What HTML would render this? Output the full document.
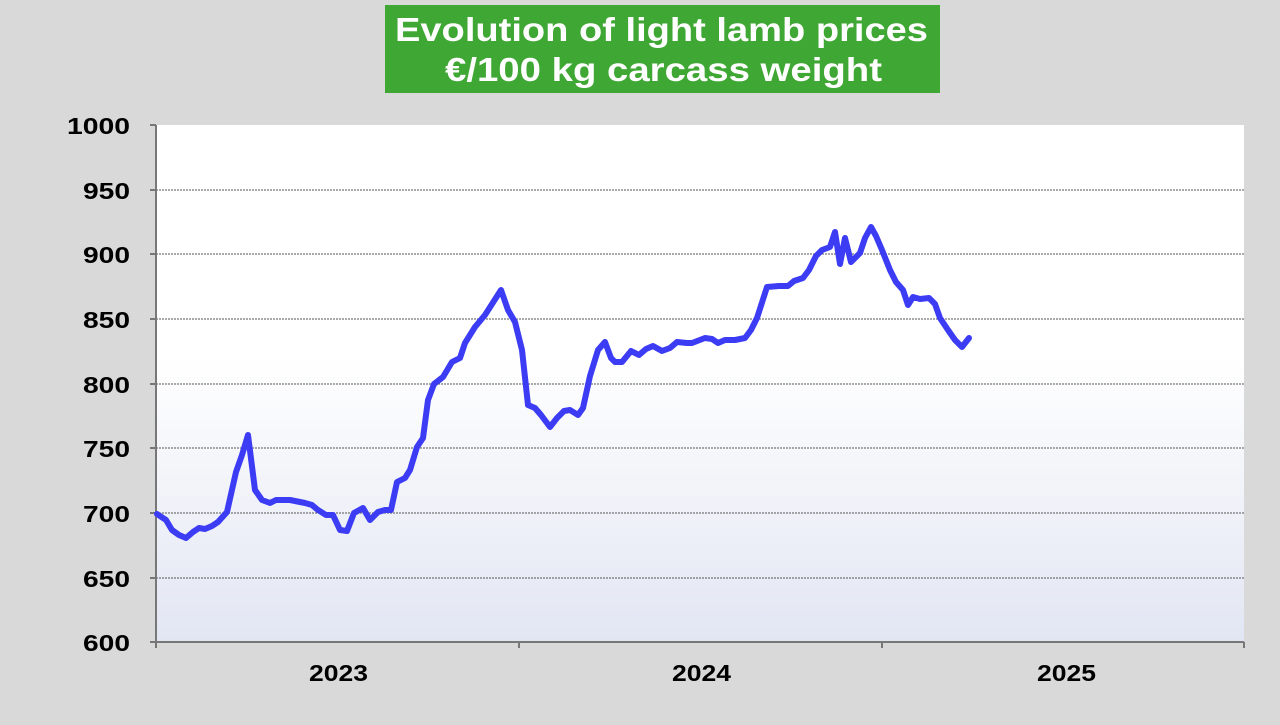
<!DOCTYPE html>
<html><head><meta charset="utf-8"><style>
body{margin:0;width:1280px;height:720px;background:#d9d9d9;overflow:hidden;font-family:"Liberation Sans",Arial,sans-serif}
</style></head><body>
<svg width="1280" height="720" xmlns="http://www.w3.org/2000/svg">
<defs><linearGradient id="g" x1="0" y1="0" x2="0" y2="1">
<stop offset="0" stop-color="#ffffff"/><stop offset="0.45" stop-color="#ffffff"/><stop offset="1" stop-color="#e2e6f3"/></linearGradient></defs>
<rect x="385" y="5" width="555" height="88" fill="#3fa733"/>
<text x="395" y="41" font-size="33" font-weight="bold" fill="#fff" textLength="533" lengthAdjust="spacingAndGlyphs">Evolution of light lamb prices</text>
<text x="445" y="81" font-size="33" font-weight="bold" fill="#fff" textLength="437" lengthAdjust="spacingAndGlyphs">€/100 kg carcass weight</text>
<rect x="156" y="125" width="1088" height="517" fill="url(#g)"/>
<g stroke="#555" stroke-width="1" stroke-dasharray="2,1">
<line x1="156" x2="1244" y1="190" y2="190"/><line x1="156" x2="1244" y1="254" y2="254"/>
<line x1="156" x2="1244" y1="319" y2="319"/><line x1="156" x2="1244" y1="384" y2="384"/>
<line x1="156" x2="1244" y1="448" y2="448"/><line x1="156" x2="1244" y1="513" y2="513"/>
<line x1="156" x2="1244" y1="578" y2="578"/></g>
<g stroke="#777" stroke-width="2">
<line x1="156" y1="125" x2="156" y2="648"/><line x1="150" y1="642" x2="1244" y2="642"/>
<line x1="150" y1="125" x2="156" y2="125"/><line x1="150" y1="190" x2="156" y2="190"/><line x1="150" y1="254" x2="156" y2="254"/><line x1="150" y1="319" x2="156" y2="319"/><line x1="150" y1="384" x2="156" y2="384"/><line x1="150" y1="448" x2="156" y2="448"/><line x1="150" y1="513" x2="156" y2="513"/><line x1="150" y1="578" x2="156" y2="578"/>
<line x1="519" y1="642" x2="519" y2="648"/><line x1="882" y1="642" x2="882" y2="648"/><line x1="1244" y1="642" x2="1244" y2="648"/></g>
<g font-size="23" font-weight="bold" fill="#000">
<text x="67" y="134" textLength="63" lengthAdjust="spacingAndGlyphs">1000</text>
<text x="83" y="199" textLength="47" lengthAdjust="spacingAndGlyphs">950</text>
<text x="83" y="263" textLength="47" lengthAdjust="spacingAndGlyphs">900</text>
<text x="83" y="328" textLength="47" lengthAdjust="spacingAndGlyphs">850</text>
<text x="83" y="393" textLength="47" lengthAdjust="spacingAndGlyphs">800</text>
<text x="83" y="457" textLength="47" lengthAdjust="spacingAndGlyphs">750</text>
<text x="83" y="522" textLength="47" lengthAdjust="spacingAndGlyphs">700</text>
<text x="83" y="587" textLength="47" lengthAdjust="spacingAndGlyphs">650</text>
<text x="83" y="651" textLength="47" lengthAdjust="spacingAndGlyphs">600</text>
<text x="309" y="681" textLength="59" lengthAdjust="spacingAndGlyphs">2023</text>
<text x="672" y="681" textLength="59" lengthAdjust="spacingAndGlyphs">2024</text>
<text x="1037" y="681" textLength="59" lengthAdjust="spacingAndGlyphs">2025</text></g>
<polyline fill="none" stroke="#3c3cf5" stroke-width="6" stroke-linejoin="round" stroke-linecap="round" points="157,514 166,520 172,530 179,535 186,538 193,532 199,528 205,529 212,526 218,522 227,512 236,472 242,455 248,435 255,490 262,500 270,503 276,500 290,500 305,503 312,505 318,510 326,515 333,515 340,530 347,531 354,513 363,508 370,520 378,512 385,510 391,510 397,482 405,478 410,470 417,447 423,438 428,400 434,384 443,377 452,362 460,358 465,343 475,327 485,315 501,290 508,310 515,322 522,350 528,405 535,408 541,415 550,427 557,418 564,411 570,410 578,415 583,408 590,376 598,350 605,342 611,358 615,362 622,362 631,351 639,355 646,349 653,346 662,351 670,348 677,342 687,343 692,343 705,338 712,339 718,343 725,340 735,340 745,338 751,330 757,318 767,287 779,286 788,286 794,281 803,278 809,270 816,256 822,250 830,247 835,232 840,264 845,238 851,262 860,253 865,238 871,227 876,236 882,250 890,270 896,282 903,290 908,305 913,297 920,299 929,298 935,304 940,318 948,330 955,340 962,347 969,338"/>
</svg>
</body></html>
